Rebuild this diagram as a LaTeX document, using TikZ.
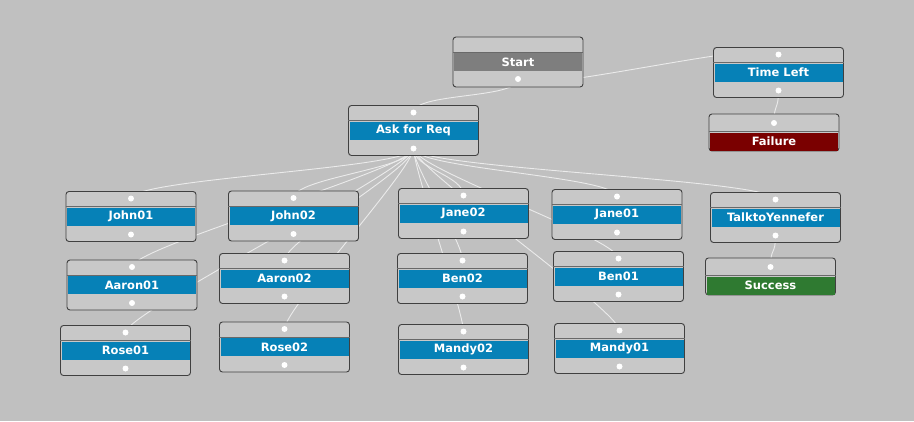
\documentclass[tikz,border=0pt]{standalone}
\usepackage{fontspec}
\setmainfont{DejaVu Sans}
\pgfdeclarelayer{bg}
\pgfdeclarelayer{edges}
\pgfsetlayers{bg,edges,main}
\definecolor{canvas}{HTML}{C0C0C0}
\definecolor{body}{HTML}{C8C8C8}
\definecolor{rim}{HTML}{404040}
\definecolor{bandblue}{HTML}{0681B7}
\definecolor{bandgray}{HTML}{7E7E7E}
\definecolor{bandred}{HTML}{7A0000}
\definecolor{bandgreen}{HTML}{2F7A31}
\tikzset{
  box/.style={draw=rim, line width=0.9pt, fill=body, rounded corners=3pt,
    minimum width=130pt, minimum height=50pt, inner sep=0pt},
  shortbox/.style={box, minimum height=37pt},
  band/.style={fill=bandblue, minimum width=128pt, minimum height=18pt,
    inner sep=0pt, text=white, font=\fontsize{11.5}{13}\selectfont\bfseries},
  sepline/.style={draw=rim!70!body, line width=0.6pt},
  port/.style={circle, fill=white, minimum size=6pt, inner sep=0pt},
  edge/.style={draw=white!92!black, line width=0.9pt},
}
\newcommand{\tasknode}[5][bandblue]{%
  \node[box] (#2) at (#3,#4) {};
  \draw[sepline] ([yshift=10pt]#2.west) -- ([yshift=10pt]#2.east);
  \node[band, fill=#1] (#2-label) at (#2.center) {#5};
  \node[port] (#2-in) at ([yshift=18pt]#2.center) {};
  \node[port] (#2-out) at ([yshift=-18pt]#2.center) {};
}
\newcommand{\leafnode}[5]{%
  \node[shortbox] (#2) at (#3,#4) {};
  \draw[sepline] ([yshift=1pt]#2.west) -- ([yshift=1pt]#2.east);
  \node[band, fill=#1] (#2-label) at ([yshift=-9pt]#2.center) {#5};
  \node[port] (#2-in) at ([yshift=9.5pt]#2.center) {};
}
\newcommand{\conn}[2]{%
  \draw[edge] (#1.center) .. controls +(0,20) and +(0,-20) .. (#2.center);
}
\begin{document}
\begin{tikzpicture}[x=1pt,y=-1pt]
\begin{pgfonlayer}{bg}
  \fill[canvas] (0,0) rectangle (914,421);
\end{pgfonlayer}
\useasboundingbox (0,0) rectangle (914,421);

% root
\node[box] (start) at (518,62) {};
\draw[sepline] ([yshift=10pt]start.west) -- ([yshift=10pt]start.east);
\node[band, fill=bandgray] (start-label) at (start.center) {Start};
\node[port] (start-out) at ([yshift=-17pt]start.center) {};

\tasknode{timeleft}{778.5}{72.5}{Time Left}
\leafnode{bandred}{failure}{774}{132.5}{Failure}

\tasknode{ask}{413.5}{130.5}{Ask for Req}

\tasknode{john01}{131}{216.5}{John01}
\tasknode{john02}{293.5}{216}{John02}
\tasknode{jane02}{463.5}{213.5}{Jane02}
\tasknode{jane01}{617}{214.5}{Jane01}
\tasknode{talk}{775.5}{217.5}{TalktoYennefer}
\leafnode{bandgreen}{success}{770.5}{276.5}{Success}

\tasknode{aaron01}{132}{285}{Aaron01}
\tasknode{aaron02}{284.5}{278.5}{Aaron02}
\tasknode{ben02}{462.5}{278.5}{Ben02}
\tasknode{ben01}{618.5}{276.5}{Ben01}

\tasknode{rose01}{125.5}{350.5}{Rose01}
\tasknode{rose02}{284.5}{347}{Rose02}
\tasknode{mandy02}{463.5}{349.5}{Mandy02}
\tasknode{mandy01}{619.5}{348.5}{Mandy01}

\begin{pgfonlayer}{edges}
  \conn{start-out}{ask-in}
  \conn{start-out}{timeleft-in}
  \conn{timeleft-out}{failure-in}
  \conn{talk-out}{success-in}
  \conn{ask-out}{john01-in}
  \conn{ask-out}{john02-in}
  \conn{ask-out}{jane02-in}
  \conn{ask-out}{jane01-in}
  \conn{ask-out}{talk-in}
  \conn{ask-out}{aaron01-in}
  \conn{ask-out}{aaron02-in}
  \conn{ask-out}{ben02-in}
  \conn{ask-out}{ben01-in}
  \conn{ask-out}{rose01-in}
  \conn{ask-out}{rose02-in}
  \conn{ask-out}{mandy02-in}
  \conn{ask-out}{mandy01-in}
\end{pgfonlayer}
\end{tikzpicture}
\end{document}
